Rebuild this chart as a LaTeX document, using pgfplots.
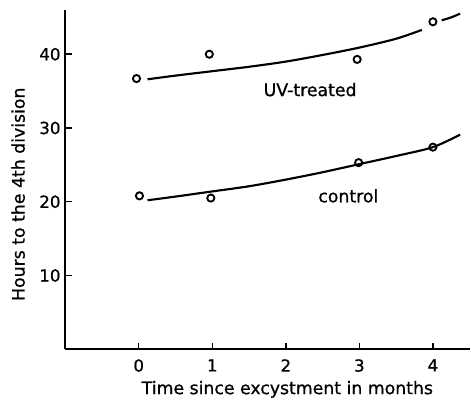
\documentclass[border=0pt]{standalone}
\usepackage{fontspec}
\setmainfont{DejaVu Sans}[FakeBold=0.8]
\usepackage{pgfplots}
\pgfplotsset{compat=1.18}
\begin{document}
\begin{tikzpicture}
\begin{axis}[
  scale only axis, width=304pt, height=255pt,
  xmin=-1, xmax=4.5, ymin=0, ymax=46,
  axis x line*=bottom, axis y line*=left,
  axis line style={line width=1.4pt},
  xtick={0,1,2,3,4}, ytick={10,20,30,40},
  tick align=inside, major tick length=5pt,
  tick style={line width=1.1pt, black},
  /pgf/number format/assume math mode=true,
  ticklabel style={font=\fontsize{12.5}{14}\selectfont},
  xticklabel style={yshift=-4pt},
  label style={font=\fontsize{13}{15}\selectfont},
  xlabel={Time since excystment in months},
  ylabel={Hours to the 4th division},
  xlabel style={xshift=15pt, yshift=0pt},
  ylabel style={xshift=-11pt, yshift=4pt},
  clip=false,
]
% UV-treated points
\addplot[only marks, mark=o, mark size=2.7pt, mark options={line width=1.4pt}] coordinates {
 (-0.03,36.7) (0.96,40.0) (2.97,39.3) (4.0,44.4)};
% control points
\addplot[only marks, mark=o, mark size=2.7pt, mark options={line width=1.4pt}] coordinates {
 (0.01,20.8) (0.98,20.5) (2.99,25.3) (4.0,27.4)};
% UV-treated fitted curve
\addplot[smooth, line width=1.6pt] coordinates {
 (0.12,36.6) (0.5,37.1) (1,37.7) (1.5,38.3) (2,39.0) (2.5,39.9) (3,40.9) (3.5,42.1) (3.85,43.3)};
\addplot[smooth, line width=1.6pt] coordinates {
 (4.12,44.6) (4.25,45.0) (4.37,45.5)};
% control fitted curve
\addplot[smooth, line width=1.6pt] coordinates {
 (0.12,20.2) (0.5,20.7) (1,21.4) (1.5,22.1) (2,23.0) (2.5,24.0) (3,25.1) (3.5,26.2) (4,27.4) (4.37,29.1)};
\node[font=\fontsize{13}{15}\selectfont] at (axis cs:2.33,35.2) {UV-treated};
\node[font=\fontsize{13}{15}\selectfont] at (axis cs:2.85,20.8) {control};
\end{axis}
\pgfresetboundingbox
\path ([xshift=-49pt,yshift=-37.5pt]current axis.south west) rectangle ([xshift=1pt,yshift=7.5pt]current axis.north east);
\end{tikzpicture}
\end{document}
